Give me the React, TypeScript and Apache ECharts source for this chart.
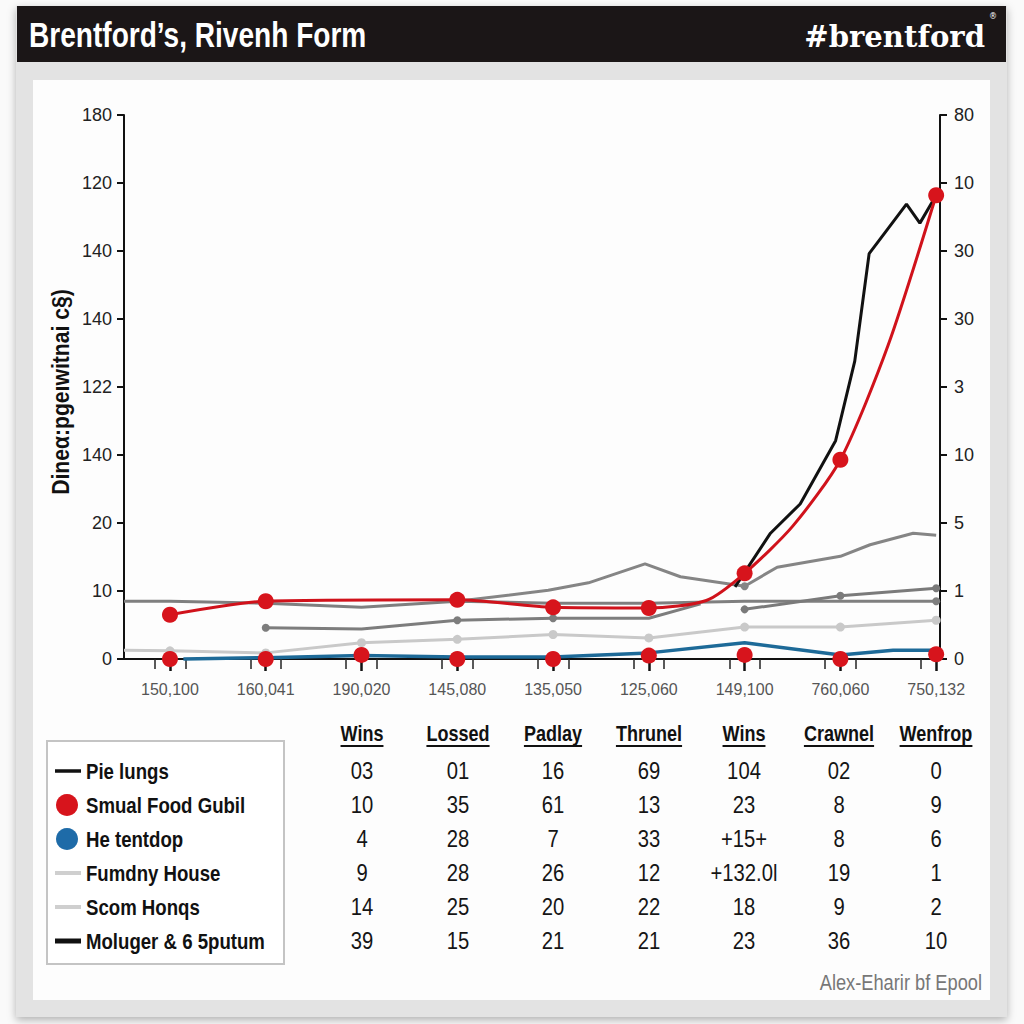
import React, { useEffect, useRef } from "react";
import * as echarts from "echarts";

const SANS = "'Liberation Sans', Arial, sans-serif";

// ---- axis labels ----
const CATEGORIES = ["150,100", "160,041", "190,020", "145,080", "135,050", "125,060", "149,100", "760,060", "750,132"];
const CATEGORY_POSITIONS = [0, 1, 2, 3, 4, 5, 6, 7, 8];
const SIDE_TICK_POSITIONS = [-0.16, 0.16, 0.84, 1.16, 1.84, 2.16, 2.84, 3.16, 3.84, 4.16, 4.84, 5.16, 5.84, 6.16, 6.84, 7.16, 7.84];
const LEFT_AXIS_LABELS = ["0", "10", "20", "140", "122", "140", "140", "120", "180"];
const RIGHT_AXIS_LABELS = ["0", "1", "5", "10", "3", "30", "30", "10", "80"];

// ---- series values ([category position, value]) ----
const PIE_LUNGS: number[][] = [
  [5.9, 1.06], [6.27, 1.85], [6.58, 2.28], [6.95, 3.21], [7.15, 4.38], [7.3, 5.96],
  [7.45, 6.24], [7.69, 6.69], [7.83, 6.41], [8, 6.82],
];
const SMUAL_FOOD_GUBIL: number[][] = [
  [0, 0.65], [1, 0.85], [3, 0.87], [4, 0.76], [5, 0.75], [5.6, 0.86], [6, 1.26],
  [6.5, 1.95], [7, 2.93], [7.5, 4.62], [8, 6.82],
];
const SMUAL_BASE: number[][] = [
  [0, 0], [1, 0], [2, 0.06], [3, 0], [4, 0], [5, 0.05], [6, 0.06], [7, 0], [8, 0.07],
];
const HE_TENTDOP: number[][] = [
  [0.14, 0], [1, 0.02], [2, 0.05], [3, 0.03], [4, 0.03], [5, 0.09], [6, 0.24], [7, 0.06], [7.55, 0.13], [8, 0.13],
];
const GREY_FLAT: number[][] = [
  [-0.48, 0.85], [0, 0.85], [1, 0.82], [2, 0.76], [3, 0.85], [4, 0.82], [5, 0.82], [6, 0.85], [7, 0.85], [8, 0.85],
];
const GREY_PEAK: number[][] = [
  [3, 0.85], [3.95, 1.01], [4.37, 1.12], [4.96, 1.4], [5.33, 1.21], [6, 1.07], [6.34, 1.35],
  [7, 1.51], [7.31, 1.68], [7.76, 1.85], [8, 1.82],
];
const GREY_LATE: number[][] = [[6, 0.73], [7, 0.93], [8, 1.04]];
const GREY_MID: number[][] = [[1, 0.46], [2, 0.44], [3, 0.57], [4, 0.6], [5, 0.6], [5.54, 0.81]];
const FUMDNY_HOUSE: number[][] = [
  [-0.48, 0.13], [0, 0.12], [1, 0.09], [2, 0.24], [3, 0.29], [4, 0.36], [5, 0.31], [6, 0.47], [7, 0.47], [8, 0.57],
];

const GREY_FLAT_MARKS = [8];
const GREY_PEAK_MARKS = [6];
const GREY_LATE_MARKS = [6, 7, 8];
const GREY_MID_MARKS = [1, 3, 4];
const FUMDNY_MARKS = [0, 1, 2, 3, 4, 5, 6, 7, 8];
const SMUAL_MARKS = [0, 1, 3, 4, 5, 6, 7, 8];

// ---- legend & table ----
const LEGEND_LABELS = ["Pie lungs", "Smual Food Gubil", "He tentdop", "Fumdny House", "Scom Honqs", "Moluger & 6 5putum"];
const TABLE_HEADERS = ["Wins", "Lossed", "Padlay", "Thrunel", "Wins", "Crawnel", "Wenfrop"];
const COL_WINS = ["03", "10", "4", "9", "14", "39"];
const COL_LOSSED = ["01", "35", "28", "28", "25", "15"];
const COL_PADLAY = ["16", "61", "7", "26", "20", "21"];
const COL_THRUNEL = ["69", "13", "33", "12", "22", "21"];
const COL_WINS2 = ["104", "23", "+15+", "+132.0l", "18", "23"];
const COL_CRAWNEL = ["02", "8", "8", "19", "9", "36"];
const COL_WENFROP = ["0", "9", "6", "1", "2", "10"];
const TABLE_COLUMNS = [COL_WINS, COL_LOSSED, COL_PADLAY, COL_THRUNEL, COL_WINS2, COL_CRAWNEL, COL_WENFROP];

function marked(data: number[][], marks: number[]) {
  return data.map(([x, y]) => ({ value: [x, y], symbol: marks.includes(x) ? "circle" : "none" }));
}

function measure(text: string, font: string) {
  const ctx = document.createElement("canvas").getContext("2d");
  if (!ctx) return text.length * 10;
  ctx.font = font;
  return ctx.measureText(text).width;
}

function greyLine(name: string, data: number[][], marks: number[], color: string, z: number, size = 8) {
  return {
    name,
    type: "line",
    data: marked(data, marks),
    symbolSize: size,
    clip: false,
    silent: true,
    z,
    lineStyle: { color, width: 3 },
    itemStyle: { color },
  };
}

function txt(text: string, x: number, y: number, font: string, fill: string, align: string, scaleX = 1, extra: any = {}) {
  return {
    type: "text", z: 50, silent: true, x, y, scaleX,
    ...extra,
    style: { text, fill, font, textAlign: align, textVerticalAlign: "middle", align, verticalAlign: "middle" },
  };
}

export default function App() {
  const ref = useRef<HTMLDivElement>(null);

  useEffect(() => {
    if (!ref.current) return;
    const chart = echarts.init(ref.current, null, { renderer: "svg" });

    const colX = [362, 458, 553, 649, 744, 839, 936];
    const rowY = [771, 805, 839, 873, 907, 941];
    const headerFont = `bold 22px ${SANS}`;
    const headerScale = 0.82;

    const graphics: any[] = [
      { type: "rect", z: -30, silent: true, shape: { x: 0, y: 0, width: 1024, height: 1024 }, style: { fill: "#fafafa" } },
      {
        type: "rect", z: -29, silent: true,
        shape: { x: 16, y: 6, width: 991, height: 1011 },
        style: { fill: "#e3e3e3", shadowBlur: 8, shadowColor: "rgba(0,0,0,0.3)", shadowOffsetY: 3 },
      },
      { type: "rect", z: -28, silent: true, shape: { x: 17, y: 6, width: 989, height: 56 }, style: { fill: "#1b1617" } },
      { type: "rect", z: -28, silent: true, shape: { x: 33, y: 80, width: 957, height: 920 }, style: { fill: "#fdfdfd" } },
      txt("Brentford’s, Rivenh Form", 29, 35, `bold 36px ${SANS}`, "#ffffff", "left", 0.78),
      txt("#brentford", 985, 36, "bold 30px 'DejaVu Serif', serif", "#ffffff", "right", 0.97),
      txt("®", 993, 16, "8px 'DejaVu Sans', sans-serif", "#ffffff", "center"),
      txt("Dineα:pgeıwitnai c§)", 61, 392, `bold 23px ${SANS}`, "#111111", "center", 0.92, { rotation: Math.PI / 2 }),
      {
        type: "rect", z: 40, silent: true,
        shape: { x: 47, y: 741, width: 237, height: 223 },
        style: { fill: "#ffffff", stroke: "#c4c4c4", lineWidth: 2 },
      },
      txt("Alex-Eharir bf Epool", 982, 982, `22px ${SANS}`, "#777777", "right", 0.83),
    ];

    // legend markers and labels
    const markerKinds = ["blackLine", "redDot", "blueDot", "greyLine", "greyLine", "blackThick"];
    LEGEND_LABELS.forEach((label, i) => {
      const y = rowY[i];
      const kind = markerKinds[i];
      if (kind === "redDot" || kind === "blueDot") {
        graphics.push({
          type: "circle", z: 45, silent: true,
          shape: { cx: 67, cy: y, r: 11 },
          style: { fill: kind === "redDot" ? "#d7141c" : "#1e6ba8" },
        });
      } else {
        graphics.push({
          type: "line", z: 45, silent: true,
          shape: { x1: 55, y1: y, x2: 81, y2: y },
          style: {
            stroke: kind === "greyLine" ? "#cfcfcf" : "#111111",
            lineWidth: kind === "blackThick" ? 5 : kind === "greyLine" ? 4 : 3.5,
          },
        });
      }
      graphics.push(txt(label, 86, y, `bold 23px ${SANS}`, "#111111", "left", 0.81));
    });

    // table
    TABLE_HEADERS.forEach((h, c) => {
      const x = colX[c];
      const w = measure(h, headerFont) * headerScale;
      graphics.push(txt(h, x, 733, headerFont, "#111111", "center", headerScale));
      graphics.push({
        type: "line", z: 50, silent: true,
        shape: { x1: x - w / 2, y1: 746, x2: x + w / 2, y2: 746 },
        style: { stroke: "#111111", lineWidth: 2 },
      });
      TABLE_COLUMNS[c].forEach((v, r) => {
        graphics.push(txt(v, x, rowY[r], `23px ${SANS}`, "#151515", "center", 0.88));
      });
    });

    const yAxisBase = (labels: string[], position: "left" | "right", margin: number) => ({
      type: "value",
      position,
      min: 0,
      max: 8,
      interval: 1,
      axisLine: { show: true, onZero: false, lineStyle: { color: "#111111", width: 2 } },
      axisTick: { show: true, length: 7, lineStyle: { color: "#111111", width: 2 } },
      splitLine: { show: false },
      axisLabel: {
        margin,
        color: "#222222",
        fontSize: 18,
        fontFamily: SANS,
        formatter: (v: number) => labels[Math.round(v)] ?? "",
      },
    });

    const option: any = {
      animation: false,
      backgroundColor: "transparent",
      grid: { left: 124, right: 84, top: 115, bottom: 365, containLabel: false },
      xAxis: [
        {
          type: "value",
          min: -0.48,
          max: 8.04,
          position: "bottom",
          splitLine: { show: false },
          axisLine: { show: true, onZero: false, lineStyle: { color: "#111111", width: 2 } },
          axisTick: { show: true, customValues: CATEGORY_POSITIONS, length: 12, lineStyle: { color: "#111111", width: 2.5 } },
          axisLabel: {
            customValues: CATEGORY_POSITIONS,
            margin: 22,
            color: "#555555",
            fontSize: 16,
            fontFamily: SANS,
            formatter: (v: number) => CATEGORIES[Math.round(v)] ?? "",
          },
        },
        {
          type: "value",
          min: -0.48,
          max: 8.04,
          position: "bottom",
          splitLine: { show: false },
          axisLine: { show: false, onZero: false },
          axisTick: { show: true, customValues: SIDE_TICK_POSITIONS, length: 10, lineStyle: { color: "#222222", width: 1.5 } },
          axisLabel: { show: false },
        },
      ],
      yAxis: [yAxisBase(LEFT_AXIS_LABELS, "left", 12), yAxisBase(RIGHT_AXIS_LABELS, "right", 14)],
      graphic: { elements: graphics },
      series: [
        greyLine("Fumdny House", FUMDNY_HOUSE, FUMDNY_MARKS, "#c9c9c9", 1, 9),
        greyLine("Scom Honqs", GREY_MID, GREY_MID_MARKS, "#7d7d7d", 1.1),
        greyLine("Grey flat", GREY_FLAT, GREY_FLAT_MARKS, "#7f7f7f", 1.2),
        greyLine("Grey peak", GREY_PEAK, GREY_PEAK_MARKS, "#858585", 1.3),
        greyLine("Grey late", GREY_LATE, GREY_LATE_MARKS, "#7a7a7a", 1.4),
        {
          name: "He tentdop",
          type: "line",
          data: HE_TENTDOP,
          showSymbol: false,
          clip: false,
          silent: true,
          z: 2,
          lineStyle: { color: "#1d6a98", width: 3.5 },
        },
        {
          name: "Pie lungs",
          type: "line",
          data: PIE_LUNGS,
          showSymbol: false,
          clip: false,
          silent: true,
          z: 3,
          lineStyle: { color: "#111111", width: 3 },
        },
        {
          name: "Smual Food Gubil",
          type: "line",
          data: marked(SMUAL_FOOD_GUBIL, SMUAL_MARKS),
          smooth: 0.25,
          symbolSize: 16,
          clip: false,
          silent: true,
          z: 4,
          lineStyle: { color: "#d0121b", width: 3 },
          itemStyle: { color: "#d7141c" },
        },
        {
          name: "Smual base",
          type: "scatter",
          data: SMUAL_BASE,
          symbolSize: 16,
          clip: false,
          silent: true,
          z: 5,
          itemStyle: { color: "#d7141c", opacity: 1 },
        },
      ],
    };

    chart.setOption(option);
    return () => chart.dispose();
  }, []);

  return (
    <div
      ref={ref}
      style={{ position: "fixed", left: 0, top: 0, width: 1024, height: 1024, background: "#fafafa" }}
    />
  );
}
